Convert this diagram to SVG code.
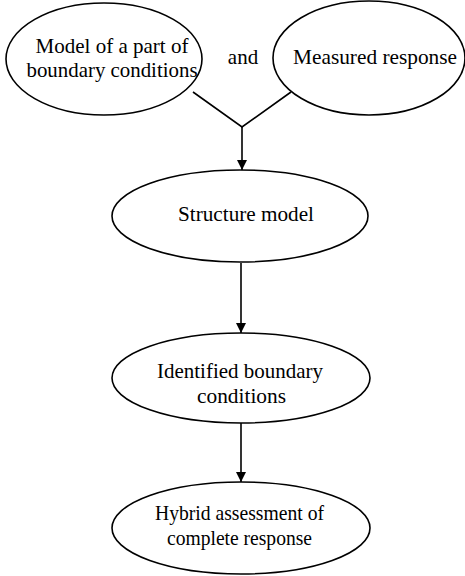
<svg xmlns="http://www.w3.org/2000/svg" width="465" height="576" viewBox="0 0 465 576">
<style>
.n{fill:#fff;stroke:#000;stroke-width:1.6}
.t{font-family:"Liberation Serif","Times New Roman",serif;font-size:21px;fill:#000;text-anchor:middle}
.c{fill:none;stroke:#000;stroke-width:1.6}
</style>
<defs>
<marker id="ah" viewBox="0 0 10 14" refX="10" refY="7" markerWidth="10" markerHeight="14" markerUnits="userSpaceOnUse" orient="auto">
<path d="M0,2 L10,7 L0,12 Z" fill="#000"/>
</marker>
</defs>
<rect width="465" height="576" fill="#fff"/>
<g id="connectors">
<path class="c" d="M193,92 L242,127 L291,92"/>
<line class="c" x1="242" y1="127" x2="242" y2="170" marker-end="url(#ah)"/>
<line class="c" x1="241" y1="263" x2="241" y2="333" marker-end="url(#ah)"/>
<line class="c" x1="241" y1="423" x2="241" y2="482" marker-end="url(#ah)"/>
</g>
<g id="model-part">
<ellipse class="n" cx="104" cy="59" rx="98" ry="56"/>
<text class="t" x="112" y="53" textLength="153" lengthAdjust="spacingAndGlyphs">Model of a part of</text>
<text class="t" x="112" y="77" textLength="171" lengthAdjust="spacingAndGlyphs">boundary conditions</text>
</g>
<g id="and-label">
<text class="t" x="243" y="64">and</text>
</g>
<g id="measured">
<ellipse class="n" cx="369" cy="58" rx="96" ry="57"/>
<text class="t" x="375" y="64" textLength="164" lengthAdjust="spacingAndGlyphs">Measured response</text>
</g>
<g id="structure">
<ellipse class="n" cx="240" cy="216" rx="128" ry="46"/>
<text class="t" x="246" y="221" textLength="136" lengthAdjust="spacingAndGlyphs">Structure model</text>
</g>
<g id="identified">
<ellipse class="n" cx="241" cy="378" rx="129" ry="45"/>
<text class="t" x="240" y="378" textLength="166" lengthAdjust="spacingAndGlyphs">Identified boundary</text>
<text class="t" x="241.5" y="403" textLength="89" lengthAdjust="spacingAndGlyphs">conditions</text>
</g>
<g id="hybrid">
<ellipse class="n" cx="241" cy="528" rx="129" ry="46"/>
<text class="t" x="239.5" y="520" textLength="169" lengthAdjust="spacingAndGlyphs">Hybrid assessment of</text>
<text class="t" x="239.5" y="545" textLength="145" lengthAdjust="spacingAndGlyphs">complete response</text>
</g>
</svg>
